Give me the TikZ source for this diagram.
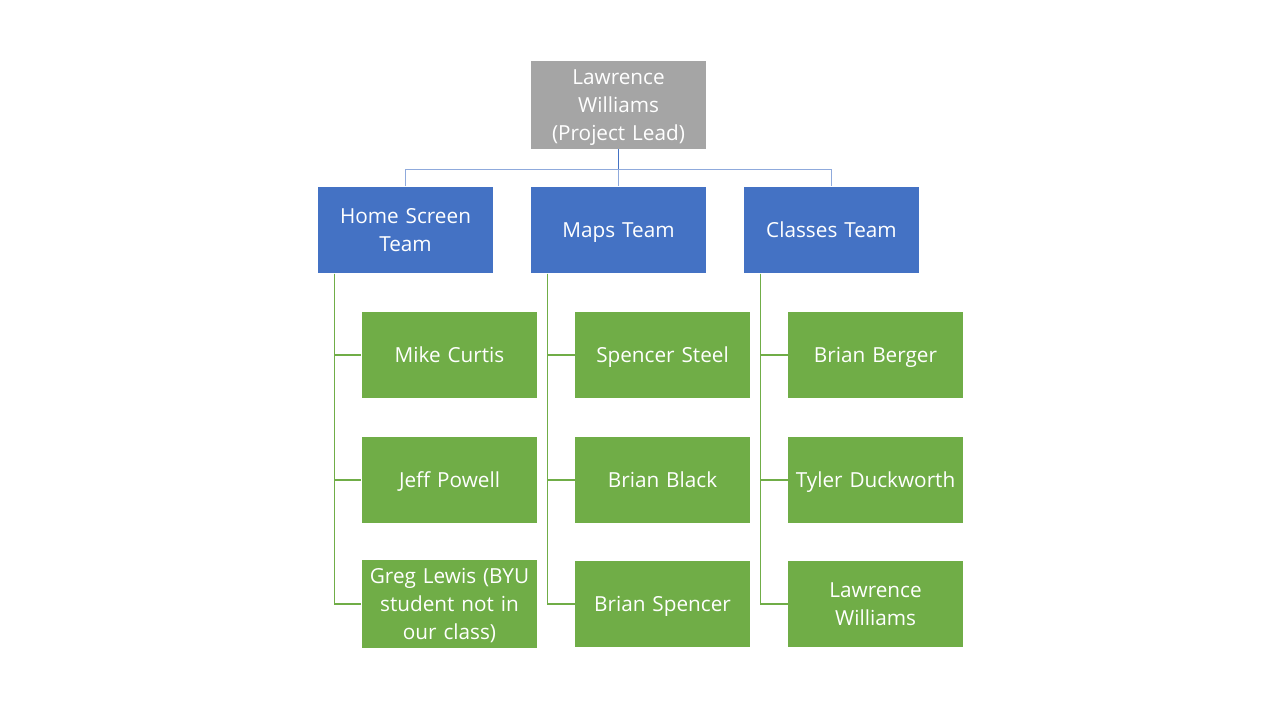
\documentclass[tikz,border=0pt]{standalone}
\usepackage{fontspec}
\setmainfont{Open Sans}
\definecolor{leadgray}{HTML}{A5A5A5}
\definecolor{teamblue}{HTML}{4472C4}
\definecolor{membgreen}{HTML}{70AD47}
\definecolor{linkblue}{HTML}{8FAADC}
\tikzset{box/.style={minimum width=3.5cm,minimum height=1.72cm,text width=3.5cm,
  align=center,inner sep=0pt,text=white,font=\fontsize{11.8}{15.9}\selectfont,
  execute at begin node={\rule{0pt}{13.4pt}},execute at end node=\strut}}
\begin{document}
\begin{tikzpicture}[x=.02cm,y=-.02cm,line width=.6pt]
\useasboundingbox (0,0) rectangle (1280,720);
\node[box,fill=leadgray] (lead) at (618.5,105) {Lawrence\\Williams\\(Project Lead)};
\foreach \n/\x/\t in {home/405.5/{Home Screen\\Team},maps/618.5/{Maps Team},classes/831.5/{Classes Team}}
  {\node[box,fill=teamblue] (\n) at (\x,230) {\t};}
\foreach \n/\x/\a/\b/\c in {home/449.5/{Mike Curtis}/{Jeff Powell}/{Greg Lewis (BYU\\student not in\\our class)},
  maps/662.5/{Spencer Steel}/{Brian Black}/{Brian Spencer},
  classes/875.5/{Brian Berger}/{Tyler Duckworth}/{Lawrence\\Williams}}{
  \node[box,fill=membgreen] (\n1) at (\x,355) {\a};
  \node[box,fill=membgreen] (\n2) at (\x,480) {\b};
  \node[box,fill=membgreen] (\n3) at (\x,604) {\c};
  \foreach \i in {1,2,3}
    {\draw[membgreen] ([xshift=.34cm]\n.south west) |- (\n\i.west);}
}
% links from the lead to the teams
\draw[teamblue] (lead.south) -- ++(0,20) coordinate (bus);
\draw[linkblue] (home.north) |- (bus) -| (classes.north) (bus) -- (maps.north);
\end{tikzpicture}
\end{document}
